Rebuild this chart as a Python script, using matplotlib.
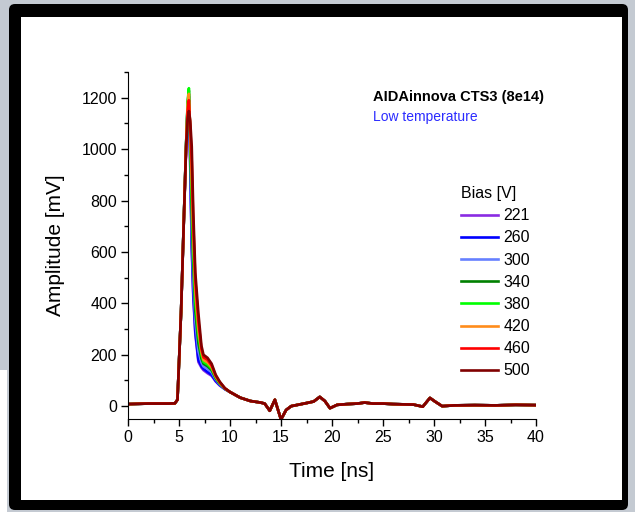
import matplotlib
matplotlib.use('Agg')
import matplotlib.pyplot as plt
from matplotlib.patches import FancyBboxPatch, Rectangle
from matplotlib.ticker import MultipleLocator

plt.rcParams['font.family'] = ['Liberation Sans', 'DejaVu Sans']

# Datos (tiempo en ns, amplitud en mV)
t_base = [0, 1, 2, 3, 4, 4.6]
amp_base = [8, 9, 10, 10, 10, 11]

t_pulso = [4.85, 5.2, 5.5, 5.7, 5.85, 5.97, 6.1, 6.25, 6.4, 6.6, 6.9, 7.2,
           7.4, 7.8, 8.2, 8.6, 9.0, 9.5]

t_cola = [10, 11, 12, 13, 13.4, 13.9, 14.4, 15.0, 15.5, 16, 17, 17.5, 18.2,
          18.8, 19.3, 19.8, 20.5, 21.5, 22.5, 23.2, 24, 25, 26, 27, 28, 28.9,
          29.6, 30.1, 30.8, 32, 34, 36, 38, 40]
amp_cola = [55, 33, 20, 14, 10, -18, 25, -52, -15, 0, 8, 12, 18,
            36, 20, -8, 5, 8, 10, 14, 10, 10, 8, 7, 6, -2,
            32, 18, 0, 3, 4, 3, 5, 4]

bias = ['221', '260', '300', '340', '380', '420', '460', '500']
colores = ['#8a2be2', '#0000ff', '#6680ff', '#008000', '#00ff00', '#ff8c1a', '#ff0000', '#800000']

pulso_221 = [25, 363, 760, 1015, 1160, 1190, 930, 610, 425, 280, 172, 150, 140, 128, 118, 96, 80, 66]
pulso_260 = [25, 363, 760, 1020, 1170, 1205, 950, 630, 440, 290, 180, 155, 145, 133, 122, 98, 82, 66]
pulso_300 = [25, 363, 760, 1020, 1175, 1215, 990, 680, 490, 330, 215, 170, 155, 145, 132, 104, 85, 67]
pulso_340 = [25, 363, 760, 1020, 1180, 1228, 1020, 750, 550, 370, 245, 185, 165, 155, 140, 108, 87, 68]
pulso_380 = [25, 363, 762, 1025, 1185, 1237, 1050, 820, 600, 410, 275, 200, 172, 162, 146, 112, 89, 68]
pulso_420 = [25, 363, 760, 1020, 1175, 1215, 1070, 880, 660, 450, 300, 212, 180, 170, 152, 115, 91, 69]
pulso_460 = [25, 363, 758, 1012, 1150, 1190, 1090, 950, 710, 490, 330, 222, 190, 180, 158, 118, 93, 69]
pulso_500 = [25, 363, 755, 1005, 1115, 1148, 1110, 1010, 760, 520, 362, 235, 200, 188, 165, 122, 95, 70]
pulsos = [pulso_221, pulso_260, pulso_300, pulso_340,
          pulso_380, pulso_420, pulso_460, pulso_500]

W, H = 635, 512
fig = plt.figure(figsize=(W / 100, H / 100), dpi=100, facecolor='#c4cad2')

# Fondo de la captura: franja blanca abajo a la izquierda
fig.patches.append(Rectangle((0, 0), 7 / 100, 142 / 100, transform=fig.dpi_scale_trans,
                             facecolor='white', edgecolor='none', zorder=-3))

# Marco negro tipo captura de pantalla (detrás de los ejes)
marco = FancyBboxPatch((9 / 100, 2 / 100), 619 / 100, 506 / 100,
                       boxstyle='round,pad=0,rounding_size=0.06',
                       transform=fig.dpi_scale_trans, facecolor='black',
                       edgecolor='none', zorder=-2)
fig.patches.append(marco)
interior = Rectangle((21 / 100, 12 / 100), 601 / 100, 483 / 100,
                     transform=fig.dpi_scale_trans, facecolor='white',
                     edgecolor='none', zorder=-1)
fig.patches.append(interior)

ax = fig.add_axes([128 / W, 1 - 419 / H, 408 / W, 347 / H])
ax.set_facecolor('none')

for b, c, p in zip(bias, colores, pulsos):
    t = t_base + t_pulso + t_cola
    a = amp_base + p + amp_cola
    ax.plot(t, a, color=c, lw=1.9, label=b, solid_joinstyle='round')

ax.set_xlim(0, 40)
ax.set_ylim(-50, 1300)
ax.xaxis.set_major_locator(MultipleLocator(5))
ax.xaxis.set_minor_locator(MultipleLocator(2.5))
ax.yaxis.set_major_locator(MultipleLocator(200))
ax.yaxis.set_minor_locator(MultipleLocator(100))
ax.tick_params(which='major', direction='out', length=5, width=1, labelsize=11.5, pad=3)
ax.tick_params(which='minor', direction='out', length=3, width=1)
ax.spines['top'].set_visible(False)
ax.spines['right'].set_visible(False)
ax.set_xlabel('Time [ns]', fontsize=15, labelpad=12)
ax.set_ylabel('Amplitude [mV]', fontsize=15, labelpad=12)

fig.text(373 / W, 1 - 97 / H, 'AIDAinnova CTS3 (8e14)', fontsize=10.5,
         fontweight='bold', va='center', ha='left')
fig.text(373 / W, 1 - 117 / H, 'Low temperature', fontsize=10,
         color='#2b2bff', va='center', ha='left')

leg = ax.legend(title='Bias [V]', loc='upper left',
                bbox_to_anchor=(453 / W, 1 - 178 / H),
                bbox_transform=fig.transFigure, frameon=False,
                fontsize=11.5, title_fontsize=11.5, borderpad=0,
                handlelength=2.3, handletextpad=0.35, labelspacing=0.45,
                alignment='left')

fig.savefig('out.png', dpi=100, facecolor=fig.get_facecolor())
